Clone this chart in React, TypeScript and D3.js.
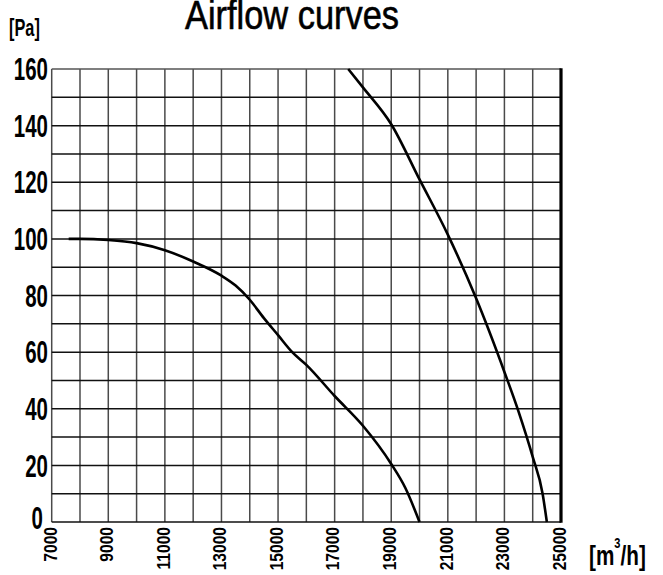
import React, { useEffect, useRef } from "react";
import * as d3 from "d3";

// airflow [m3/h] vs static pressure [Pa]
const curveA: [number, number][] = [
  [7600, 100], [8000, 100], [9000, 99.6], [10000, 98.5], [11000, 96],
  [12000, 92], [13000, 87], [13500, 83.5], [14000, 78.5], [14500, 72],
  [15000, 66], [15500, 60], [16000, 55.5], [17000, 44.5], [18000, 34],
  [19000, 20.5], [19500, 12], [20000, 0],
];
const curveB: [number, number][] = [
  [17480, 160], [18000, 153.5], [19000, 140.5], [20000, 121], [21000, 101.5],
  [22000, 79], [23000, 53], [23500, 39], [24000, 23], [24350, 10], [24500, 0],
];
const xGrid = d3.range(7000, 25001, 1000);
const yGrid = d3.range(0, 161, 10);
const xTickLabels = [7000, 9000, 11000, 13000, 15000, 17000, 19000, 21000, 23000, 25000];
const yTickLabels = [0, 20, 40, 60, 80, 100, 120, 140, 160];

// no narrow font installed, so texts are squeezed with scale()
const FONT = "'Liberation Sans', Arial, sans-serif";

export default function App() {
  const ref = useRef<SVGSVGElement>(null);

  useEffect(() => {
    const svg = d3.select(ref.current);
    svg.selectAll("*").remove();

    const x = d3.scaleLinear().domain([7000, 25000]).range([51.7, 561]);
    const y = d3.scaleLinear().domain([0, 160]).range([522, 69]);

    svg.append("rect").attr("width", 663).attr("height", 575).attr("fill", "#fff");

    // grid
    svg.append("g").selectAll("line").data(xGrid).enter().append("line")
      .attr("x1", (d) => x(d)).attr("x2", (d) => x(d))
      .attr("y1", y(0)).attr("y2", y(160))
      .attr("stroke", "#4a4a4a").attr("stroke-width", 1.5);
    svg.append("g").selectAll("line").data(yGrid).enter().append("line")
      .attr("x1", x(7000)).attr("x2", x(25000))
      .attr("y1", (d) => y(d)).attr("y2", (d) => y(d))
      .attr("stroke", (d) => (d === 160 ? "#555" : "#111")).attr("stroke-width", 1.5);
    svg.append("line")
      .attr("x1", x(25000)).attr("x2", x(25000))
      .attr("y1", y(0) + 0.75).attr("y2", y(160) - 0.75)
      .attr("stroke", "#000").attr("stroke-width", 3.2);

    // curves
    const line = d3.line<[number, number]>()
      .x((d) => x(d[0])).y((d) => y(d[1]))
      .curve(d3.curveMonotoneX);
    [curveA, curveB].forEach((c) => {
      svg.append("path").attr("d", line(c)).attr("fill", "none")
        .attr("stroke", "#000").attr("stroke-width", 2.6);
    });

    // y labels ("0" sits a little left and above its line)
    svg.append("g").selectAll("text").data(yTickLabels).enter().append("text")
      .attr("transform", (d) =>
        d === 0
          ? `translate(43,${y(d) - 4}) scale(0.66,1)`
          : `translate(48,${y(d)}) scale(0.66,1)`)
      .attr("dy", "0.36em")
      .attr("text-anchor", "end")
      .style("font-family", FONT).style("font-weight", "bold").style("font-size", "31px")
      .text((d) => d);

    // x labels, rotated
    svg.append("g").selectAll("text").data(xTickLabels).enter().append("text")
      .attr("transform", (d) => `translate(${x(d) - 2},527) rotate(-90) scale(0.82,1)`)
      .attr("dy", "0.36em")
      .attr("text-anchor", "end")
      .style("font-family", FONT).style("font-weight", "bold").style("font-size", "19px")
      .text((d) => d);

    // titles
    svg.append("text").attr("transform", "translate(292,29) scale(0.86,1)")
      .attr("text-anchor", "middle")
      .style("font-family", FONT).style("font-size", "40px")
      .attr("stroke", "#000").attr("stroke-width", 0.6)
      .text("Airflow curves");
    svg.append("text").attr("transform", "translate(9,36) scale(0.68,1)")
      .style("font-family", FONT).style("font-weight", "bold").style("font-size", "24px")
      .text("[Pa]");
    const unit = svg.append("text").attr("transform", "translate(589,565) scale(0.74,1)")
      .style("font-family", FONT).style("font-weight", "bold").style("font-size", "28px");
    unit.append("tspan").text("[m");
    unit.append("tspan").attr("dy", -17).style("font-size", "15px").text("3");
    unit.append("tspan").attr("dy", 17).text("/h]");
  }, []);

  return (
    <svg
      ref={ref}
      width={663}
      height={575}
      style={{ position: "absolute", left: 0, top: 0, display: "block" }}
    />
  );
}
